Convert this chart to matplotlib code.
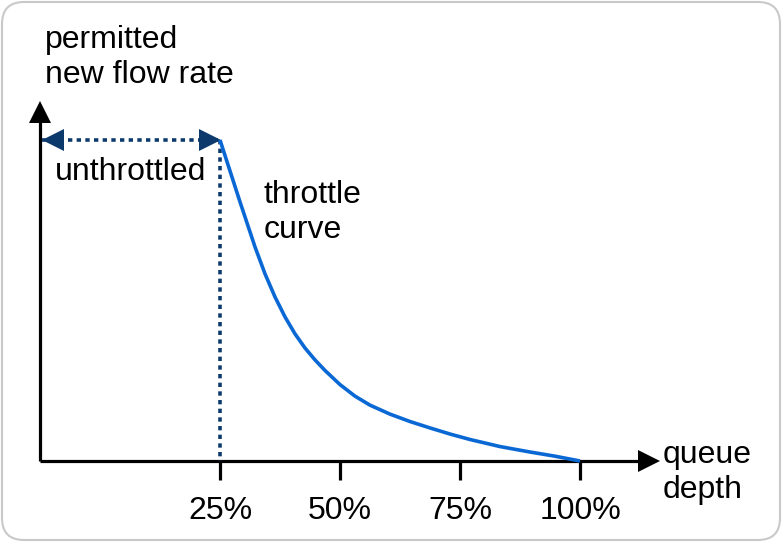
import matplotlib
matplotlib.use('agg')
import matplotlib.pyplot as plt
from matplotlib.patches import FancyBboxPatch
from matplotlib.transforms import IdentityTransform

plt.rcParams['font.family'] = ['Liberation Sans', 'DejaVu Sans']

# throttle curve: queue depth (%) vs permitted new flow rate (fraction of max)
depth = [25, 29.17, 32.29, 34.38, 36.46, 38.54, 40.63, 42.71, 44.79, 46.88, 50.0,
         53.13, 56.25, 60.42, 64.58, 68.75, 72.92, 77.08, 83.33, 89.58, 94.79, 100]
rate = [1.0, 0.807, 0.667, 0.583, 0.511, 0.449, 0.396, 0.352, 0.315, 0.282, 0.238,
        0.202, 0.174, 0.146, 0.123, 0.103, 0.084, 0.067, 0.045, 0.028, 0.015, 0.0]
tick_pos = [25, 50, 75, 100]
tick_labels = ["25%", "50%", "75%", "100%"]
knee = 25  # end of unthrottled region

W, H = 782, 542
fig = plt.figure(figsize=(W / 100, H / 100), dpi=100)
ax = fig.add_axes([0, 0, 1, 1])
ax.axis('off')

# pixel layout: 0% at x=100px, 4.8px per %, baseline y=461px, rate 1.0 at y=140px
def px_x(p):
    return (p - 100) / 4.8
def px_y(p):
    return (461 - p) / 321.0

ax.set_xlim(px_x(0), px_x(W))
ax.set_ylim(px_y(H), px_y(0))

black = 'black'
navy = '#0d3a6c'
blue = '#0a68d4'
lw = 2.3
fs = 23

# axes
x0 = px_x(40)
ax.plot([x0, x0], [0, px_y(122)], color=black, lw=lw, solid_capstyle='butt')
ax.plot([x0, px_x(640)], [0, 0], color=black, lw=lw, solid_capstyle='butt')
ax.plot(x0, px_y(112), marker='^', ms=16, color=black, mew=0)
ax.plot(px_x(649), 0, marker='>', ms=16, color=black, mew=0)

# ticks
ax.vlines(tick_pos, px_y(480), 0, color=black, lw=lw)
for t, lab in zip(tick_pos, tick_labels):
    ax.text(t, px_y(496), lab, ha='center', va='top', fontsize=fs)

# unthrottled region
ax.plot([x0 + 0.4, knee - 0.4], [1, 1], color=navy, lw=2.6, linestyle=(0, (1.2, 1.2)),
        dash_capstyle='butt')
ax.plot([knee, knee], [1, 0], color=navy, lw=2.6, linestyle=(0, (1.2, 1.2)),
        dash_capstyle='butt')
ax.plot(px_x(52.5), 1, marker='<', ms=16, color=navy, mew=0)
ax.plot(px_x(209.5), 1, marker='>', ms=16, color=navy, mew=0)

# throttle curve
ax.plot(depth, rate, color=blue, lw=2.6, solid_capstyle='butt', solid_joinstyle='round')

# labels
ax.text(px_x(45), px_y(25), "permitted\nnew flow rate", ha='left', va='top', fontsize=fs)
ax.text(px_x(55), px_y(157), "unthrottled", ha='left', va='top', fontsize=fs)
ax.text(px_x(264), px_y(180), "throttle\ncurve", ha='left', va='top', fontsize=fs)
ax.text(px_x(663), px_y(440), "queue\ndepth", ha='left', va='top', fontsize=fs)

# rounded frame
frame = FancyBboxPatch((2, 2), W - 4, H - 4, boxstyle="round,pad=0,rounding_size=22",
                       transform=IdentityTransform(), facecolor='none',
                       edgecolor='#c9c9c9', lw=1.5)
fig.add_artist(frame)

fig.savefig('out.png', dpi=100)
